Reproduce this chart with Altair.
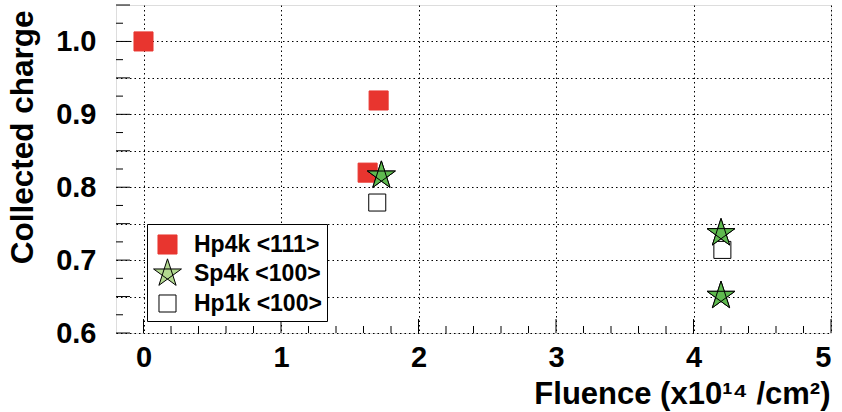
import altair as alt
import pandas as pd

# ---- data ----
series_names = ["Hp4k <111>", "Sp4k <100>", "Hp1k <100>"]
hp4k_x = [0.0, 1.71, 1.63]
hp4k_y = [1.000, 0.919, 0.820]
sp4k_x = [1.73, 4.20, 4.20]
sp4k_y = [0.816, 0.737, 0.651]
hp1k_x = [1.70, 4.21]
hp1k_y = [0.779, 0.714]

x_ticks = [0, 1, 2, 3, 4, 5]
y_grid = [0.6, 0.65, 0.7, 0.75, 0.8, 0.85, 0.9, 0.95, 1.0]

rows = []
for x, y in zip(hp4k_x, hp4k_y):
    rows.append({"x": x, "y": y, "series": series_names[0]})
for x, y in zip(hp1k_x, hp1k_y):
    rows.append({"x": x, "y": y, "series": series_names[2]})
for x, y in zip(sp4k_x, sp4k_y):
    rows.append({"x": x, "y": y, "series": series_names[1]})
df = pd.DataFrame(rows)

# inner tick marks (ROOT style)
x_major = pd.DataFrame({"v": x_ticks})
x_minor = pd.DataFrame({"v": [round(i * 0.2, 2) for i in range(0, 25) if i % 5 != 0]})
y_major = pd.DataFrame({"v": [round(0.6 + i * 0.05, 3) for i in range(0, 10)]})
y_minor = pd.DataFrame({"v": [round(0.625 + i * 0.05, 3) for i in range(0, 9)]})

W, H = 715, 328
FONT = "Liberation Sans, Arial, Helvetica, sans-serif"
STAR = "M0,-1 L0.588,0.809 L-0.951,-0.309 L0.951,-0.309 L-0.588,0.809 Z"
SQ_BIG = "M-0.65,-0.65 L0.65,-0.65 L0.65,0.65 L-0.65,0.65 Z"
SQ_SMALL = "M-0.58,-0.58 L0.58,-0.58 L0.58,0.58 L-0.58,0.58 Z"
RED = "#e8352f"
SYM = 860

xs = alt.Scale(domain=[-0.2, 5], nice=False, zero=False)
ys = alt.Scale(domain=[0.6, 1.05], nice=False, zero=False)

x_axis = alt.Axis(
    values=x_ticks, format="d", title="Fluence (x10¹⁴ /cm²)",
    labelPadding=10, labelBaseline="top",
    titleX=714, titleY=70, titleAlign="right", titleAnchor="end",
    titleBaseline="alphabetic", titleFontSize=31,
)
y_axis = alt.Axis(
    values=y_grid, title="Collected charge",
    labelExpr="abs(datum.value*10 - round(datum.value*10)) < 0.001 ? format(datum.value, '.1f') : ''",
    labelPadding=20,
    titleAngle=270, titleX=-84, titleY=5, titleAlign="right",
    titleAnchor="end", titleBaseline="alphabetic", titleFontSize=31.5,
)

points = alt.Chart(df).mark_point(filled=True, opacity=1, strokeWidth=1, size=SYM).encode(
    x=alt.X("x:Q", scale=xs, axis=x_axis),
    y=alt.Y("y:Q", scale=ys, axis=y_axis),
    shape=alt.Shape("series:N", scale=alt.Scale(domain=series_names, range=[SQ_BIG, STAR, SQ_SMALL]),
                    legend=alt.Legend(title=None)),
    fill=alt.Fill("series:N", scale=alt.Scale(domain=series_names, range=[RED, "#b2d98f", "white"]),
                  legend=alt.Legend(title=None)),
    stroke=alt.Stroke("series:N", scale=alt.Scale(domain=series_names, range=[RED, "black", "black"]),
                      legend=alt.Legend(title=None)),
)

stars = alt.Chart(df).transform_filter(
    alt.datum.series == series_names[1]
).mark_point(filled=True, opacity=1, strokeWidth=1, shape=STAR, size=SYM,
             fill="#5fba4f", stroke="black").encode(
    x=alt.X("x:Q", scale=xs),
    y=alt.Y("y:Q", scale=ys),
)

def vtick(data, length):
    return alt.Chart(data).mark_rule(color="black", strokeWidth=1).encode(
        x=alt.X("v:Q", scale=xs), y=alt.value(H), y2=alt.value(H - length))

def htick(data, length):
    return alt.Chart(data).mark_rule(color="black", strokeWidth=1).encode(
        y=alt.Y("v:Q", scale=ys), x=alt.value(0), x2=alt.value(length))

ticks = vtick(x_major, 14) + vtick(x_minor, 7) + htick(y_major, 14) + htick(y_minor, 7)

chart = alt.layer(ticks, points, stars).properties(
    width=W, height=H,
    autosize=alt.AutoSizeParams(type="none"),
    padding={"left": 116, "top": 5, "right": 11, "bottom": 79},
).configure_view(
    stroke="black", strokeWidth=1.5, fill="white"
).configure(background="white").configure_axis(
    domain=False, ticks=False, tickSize=0, grid=True, gridColor="black",
    gridDash=[1.5, 3], gridWidth=1, gridOpacity=1,
    labelFont=FONT, labelFontWeight="bold", labelFontSize=29, labelColor="black",
    titleFont=FONT, titleFontWeight="bold", titleFontSize=30, titleColor="black",
).configure_legend(
    orient="none", legendX=31, legendY=219, strokeColor="black", fillColor="white",
    padding=5, labelFont=FONT, labelFontWeight="bold", labelFontSize=23, labelColor="black",
    symbolStrokeWidth=1, symbolSize=SYM, labelOffset=11, rowPadding=-1, symbolOpacity=1,
)

chart.save("out.html", embed_options={"renderer": "svg", "actions": False})
